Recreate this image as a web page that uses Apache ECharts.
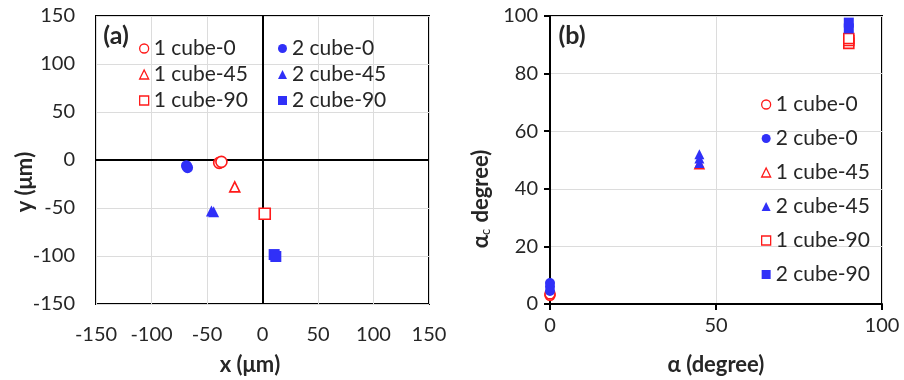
<html lang="en">
<head>
	<meta charset="UTF-8">
	<script src="https://cdn.jsdelivr.net/npm/echarts@6/dist/echarts.min.js"></script>
	<title>cube positions</title>
</head>
<body style="margin:0">
<div id="pic" style="width:904px;height:380px"></div>
<style>
	body
	{
		background:#fff;
	}
</style>
<script>
	"use strict";

	// series names
	const names=["1 cube-0","1 cube-45","1 cube-90","2 cube-0","2 cube-45","2 cube-90"];
	// (a) x,y in um
	const posA1_0=[[-39,-3],[-37,-2]];
	const posA1_45=[[-25,-28]];
	const posA1_90=[[2,-56]];
	const posA2_0=[[-68.5,-6],[-67.5,-8]];
	const posA2_45=[[-46,-53],[-44,-54]];
	const posA2_90=[[10.5,-98.5],[12,-100.5]];
	// (b) alpha, alpha_c in degree
	const angB1_0=[[0,3],[0,3.5]];
	const angB2_0=[[0,4.5],[0,6],[0,7.3]];
	const angB1_45=[[45,48.5]];
	const angB2_45=[[45,49],[45,50.5],[45,52]];
	const angB1_90=[[90,90.5],[90,91.5],[90,92.2]];
	const angB2_90=[[90,95.7],[90,97.7]];
	// axis ranges
	const rangeA=[-150,150,50];
	const rangeBx=[0,100,50];
	const rangeBy=[0,100,20];

	const RED="#ff1a1a",BLUE="#3030f8",TXT="#262626";
	const FF="Lato, 'DejaVu Sans', sans-serif";

	function mk(name,data,sym,filled,ix,size)
	{
		let col=filled?BLUE:RED;
		return {
			name:name,
			type:"scatter",
			xAxisIndex:ix,
			yAxisIndex:ix,
			symbol:sym,
			symbolSize:sym==="triangle"&&!filled?size-1:size,
			data:data,
			itemStyle:filled?{color:col,opacity:1}:{color:"#fff",borderColor:col,borderWidth:1.6,opacity:1},
			emphasis:{disabled:true}
		};
	}

	function ax(r,ix,grid)
	{
		return {
			type:"value",gridIndex:grid,min:r[0],max:r[1],interval:r[2],
			axisLine:{show:ix===1,onZero:false,lineStyle:{color:"#000",width:2}},
			axisTick:{show:ix===1,length:6,lineStyle:{color:"#000",width:2}},
			splitLine:{lineStyle:{color:"#dcdcdc",width:1}},
			axisLabel:{fontSize:20,color:TXT,fontFamily:FF,margin:ix===1?12:21}
		};
	}

	let series=[
		mk(names[0],posA1_0,"circle",false,0,11),
		mk(names[1],posA1_45,"triangle",false,0,11),
		mk(names[2],posA1_90,"rect",false,0,11),
		mk(names[3],posA2_0,"circle",true,0,11),
		mk(names[4],posA2_45,"triangle",true,0,11),
		mk(names[5],posA2_90,"rect",true,0,11),
		mk(names[0],angB1_0,"circle",false,1,10),
		mk(names[1],angB1_45,"triangle",false,1,10),
		mk(names[2],angB1_90,"rect",false,1,10),
		mk(names[3],angB2_0,"circle",true,1,10),
		mk(names[4],angB2_45,"triangle",true,1,10),
		mk(names[5],angB2_90,"rect",true,1,10)
	];
	// zero cross lines in (a)
	series[0].markLine={
		silent:true,symbol:"none",z:1,label:{show:false},
		lineStyle:{color:"#000",width:2,type:"solid"},
		data:[{xAxis:0},{yAxis:0}]
	};

	let lg={
		orient:"vertical",itemWidth:9,itemHeight:9,selectedMode:false,
		itemStyle:{borderWidth:1.3},
		textStyle:{fontSize:21,color:TXT,fontFamily:FF,lineHeight:20}
	};

	let bold={fontSize:22,fontWeight:"bold",fill:TXT,fontFamily:FF,align:"center",verticalAlign:"middle"};

	let pic=echarts.init(document.getElementById("pic"));
	let option=
		{
			animation:false,
			backgroundColor:"#fff",
			grid:[
				{left:96,top:16,width:333,height:288,show:true,borderColor:"#000",borderWidth:2},
				{left:550,top:16,width:332,height:288,show:true,borderColor:"#000",borderWidth:2}
			],
			xAxis:[ax(rangeA,0,0),ax(rangeBx,1,1)],
			yAxis:[ax(rangeA,0,0),ax(rangeBy,1,1)],
			legend:[
				Object.assign({left:134,top:33,itemGap:5,data:names.slice(0,3)},lg),
				Object.assign({left:273,top:33,itemGap:5,data:names.slice(3)},lg),
				Object.assign({left:756,top:89,itemGap:13,data:[names[0],names[3],names[1],names[4],names[2],names[5]]},lg)
			],
			graphic:[
				{type:"text",x:116,y:36,z:10,style:Object.assign({},bold,{text:"(a)",fontSize:25})},
				{type:"text",x:572,y:36,z:10,style:Object.assign({},bold,{text:"(b)",fontSize:25})},
				{type:"text",x:250,y:365,style:Object.assign({},bold,{text:"x (μm)"})},
				{type:"text",x:25,y:182,rotation:Math.PI/2,style:Object.assign({},bold,{text:"y (μm)"})},
				{type:"text",x:716,y:365,style:Object.assign({},bold,{text:"α (degree)"})},
				{
					type:"text",x:481,y:199,rotation:Math.PI/2,
					style:Object.assign({},bold,{
						text:"{g|α}{s|c}{g| degree)}",
						rich:{
							g:{fontSize:22,fontWeight:"bold",fill:TXT,fontFamily:FF},
							s:{fontSize:13,fill:TXT,fontFamily:FF,verticalAlign:"bottom",padding:[10,1,0,0]}
						}
					})
				}
			],
			series:series
		};
	pic.setOption(option);
</script>
</body>
</html>
